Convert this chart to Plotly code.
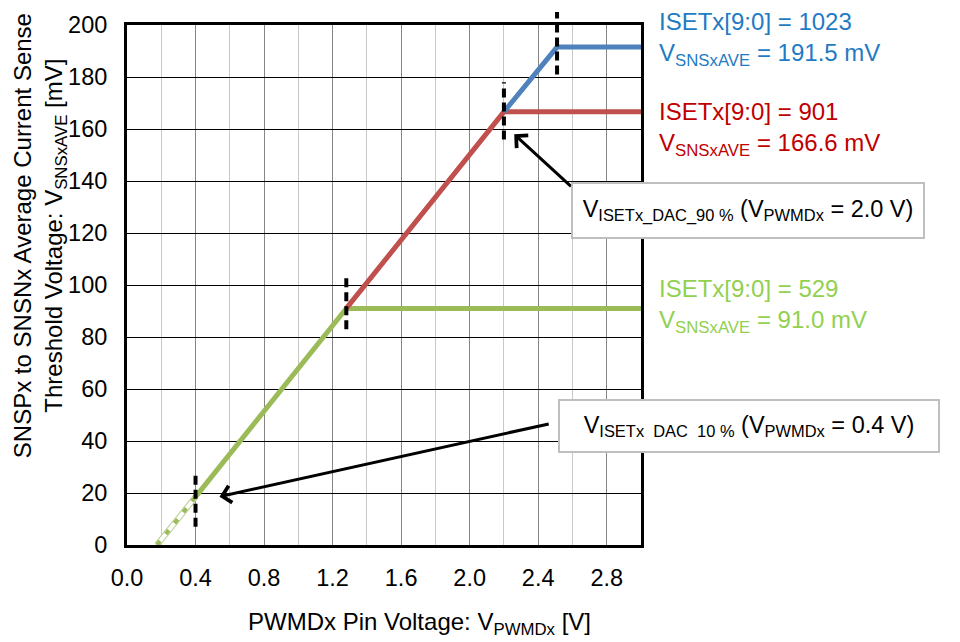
import plotly.graph_objects as go

# ---- data ----
pwm_dash = [0.175, 0.4]
v_dash = [0.0, 18.5]
pwm_green = [0.4, 1.28, 3.0]
v_green = [18.5, 91.0, 91.0]
pwm_red = [1.28, 2.2, 3.0]
v_red = [91.0, 166.6, 166.6]
pwm_blue = [2.2, 2.51, 3.0]
v_blue = [166.6, 191.5, 191.5]

# dashed break markers: x position, y-low, y-high (mV)
marker_x = [0.4, 1.28, 2.2, 2.51]
marker_lo = [7, 83, 156, 181]
marker_hi = [27, 104, 178, 205]

x_ticks = [0.0, 0.4, 0.8, 1.2, 1.6, 2.0, 2.4, 2.8]
y_ticks = [0, 20, 40, 60, 80, 100, 120, 140, 160, 180, 200]

FONT = "Arial, Liberation Sans, sans-serif"
GREEN, RED, BLUE = "#9bbb59", "#c0504d", "#4f81bd"

fig = go.Figure()
# dashed lower segment (white with green dashes)
fig.add_trace(go.Scatter(x=pwm_dash, y=v_dash, mode="lines",
                         line=dict(color="#b8cf8e", width=6), hoverinfo="skip"))
fig.add_trace(go.Scatter(x=pwm_dash, y=v_dash, mode="lines",
                         line=dict(color="white", width=4), hoverinfo="skip"))
fig.add_trace(go.Scatter(x=pwm_dash, y=v_dash, mode="lines",
                         line=dict(color=GREEN, width=4, dash="5px,9px"), hoverinfo="skip"))
fig.add_trace(go.Scatter(x=pwm_green, y=v_green, mode="lines",
                         line=dict(color=GREEN, width=5)))
fig.add_trace(go.Scatter(x=pwm_red, y=v_red, mode="lines",
                         line=dict(color=RED, width=5)))
fig.add_trace(go.Scatter(x=pwm_blue, y=v_blue, mode="lines",
                         line=dict(color=BLUE, width=5)))

YMAX = 200.0
for mx, lo, hi in zip(marker_x, marker_lo, marker_hi):
    fig.add_shape(type="line", xref="x", yref="paper", x0=mx, x1=mx,
                  y0=lo / YMAX, y1=hi / YMAX,
                  line=dict(color="black", width=4, dash="9px,5px"))

ann = []
# arrows
ann.append(dict(x=2.26, y=158, ax=2.60, ay=137.4, xref="x", yref="y",
                axref="x", ayref="y", text="", showarrow=True,
                arrowhead=4, arrowsize=1.1, arrowwidth=3, arrowcolor="black"))
ann.append(dict(x=0.54, y=18.6, ax=2.47, ay=46.7, xref="x", yref="y",
                axref="x", ayref="y", text="", showarrow=True,
                arrowhead=4, arrowsize=1.1, arrowwidth=3, arrowcolor="black"))
# boxes
ann.append(dict(x=(571 - 127) / 514, y=(545 - 205.5) / 527, xref="paper", yref="paper",
                xanchor="left", yanchor="middle", showarrow=False,
                text="V<sub>ISETx_DAC_90 %</sub> (V<sub>PWMDx</sub> = 2.0 V)",
                font=dict(family=FONT, size=23.5, color="black"),
                bgcolor="white", bordercolor="#bfbfbf", borderwidth=2, borderpad=4,
                width=342, height=45, align="center"))
ann.append(dict(x=(558 - 127) / 514, y=(545 - 424) / 527, xref="paper", yref="paper",
                xanchor="left", yanchor="middle", showarrow=False,
                text="V<sub>ISETx\u00a0\u00a0DAC\u00a0\u00a010 %</sub> (V<sub>PWMDx</sub> = 0.4 V)",
                font=dict(family=FONT, size=23.5, color="black"),
                bgcolor="white", bordercolor="#bfbfbf", borderwidth=2, borderpad=4,
                width=370, height=42, align="center"))
# right-side labels
labels = [
    ("ISETx[9:0] = 1023<br>V<sub>SNSxAVE</sub> = 191.5 mV", "#1f7bc4", 32),
    ("ISETx[9:0] = 901<br>V<sub>SNSxAVE</sub> = 166.6 mV", "#c00000", 123),
    ("ISETx[9:0] = 529<br>V<sub>SNSxAVE</sub> = 91.0 mV", "#92d050", 303),
]
for txt, col, py in labels:
    ann.append(dict(x=(657 - 127) / 514, y=(545 - py) / 527, xref="paper", yref="paper",
                    xanchor="left", yanchor="middle", showarrow=False, align="left",
                    text=txt, font=dict(family=FONT, size=24, color=col)))
# axis titles
ann.append(dict(x=(40 - 127) / 514, y=(545 - 232) / 527, xref="paper", yref="paper",
                xanchor="center", yanchor="middle", showarrow=False, textangle=-90,
                text="SNSPx to SNSNx Average Current Sense<br>Threshold Voltage: V<sub>SNSxAVE</sub> [mV]",
                font=dict(family=FONT, size=24, color="black")))
ann.append(dict(x=(419 - 127) / 514, y=(545 - 625) / 527, xref="paper", yref="paper",
                xanchor="center", yanchor="middle", showarrow=False,
                text="PWMDx Pin Voltage: V<sub>PWMDx</sub> [V]",
                font=dict(family=FONT, size=24, color="black")))

fig.update_layout(
    width=960, height=642,
    margin=dict(l=127, r=319, t=18, b=97),
    paper_bgcolor="white", plot_bgcolor="white",
    showlegend=False,
    font=dict(family=FONT, size=23.5, color="black"),
    annotations=ann,
    xaxis=dict(range=[0, 3.0], tickvals=x_ticks, ticktext=[f"{v:.1f}" for v in x_ticks],
               showgrid=True, gridcolor="#868686", gridwidth=1,
               minor=dict(dtick=0.2, tick0=0, showgrid=True, gridcolor="#c8c8c8", gridwidth=1),
               showline=True, linecolor="black", linewidth=3, mirror=True,
               ticks="outside", ticklen=10, tickcolor="rgba(0,0,0,0)",
               zeroline=False, tickfont=dict(family=FONT, size=23.5, color="black")),
    yaxis=dict(range=[0, 200], tickvals=y_ticks,
               showgrid=True, gridcolor="black", gridwidth=1,
               showline=True, linecolor="black", linewidth=3, mirror=True,
               ticks="outside", ticklen=12, tickcolor="rgba(0,0,0,0)",
               zeroline=False, tickfont=dict(family=FONT, size=23.5, color="black")),
)

fig.write_html("out.html")
